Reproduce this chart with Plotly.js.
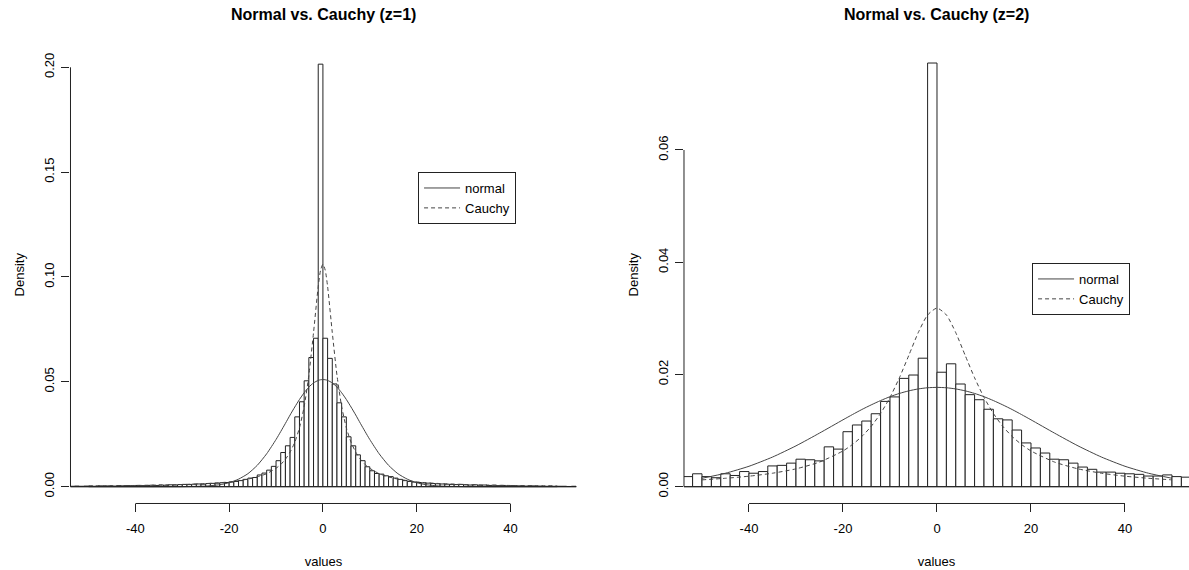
<!DOCTYPE html>
<html>
<head>
<meta charset="utf-8">
<script src="https://cdn.plot.ly/plotly-3.0.1.min.js"></script>
<style>
html,body{margin:0;padding:0;background:#fff;}
#chart{width:1189px;height:570px;}
</style>
</head>
<body>
<div id="chart"></div>
<script>
// ---------- data ----------
// Left panel (z=1): histogram, bin width 1, first bin starts at -54
const leftBinStart = -54;
const leftBinWidth = 1;
const leftDensity = [
  0.0002, 0.0003, 0.0002, 0.0003, 0.0003, 0.0002, 0.0004, 0.0003, 0.0004, 0.0003,
  0.0005, 0.0004, 0.0005, 0.0004, 0.0006, 0.0005, 0.0006, 0.0007, 0.0006, 0.0008,
  0.0007, 0.0009, 0.0008, 0.0010, 0.0011, 0.0010, 0.0012, 0.0013, 0.0012, 0.0015,
  0.0016, 0.0017, 0.0019, 0.0020,
  0.0022, 0.0025, 0.0029, 0.0035, 0.0041, 0.0044, 0.0056, 0.0065, 0.0079, 0.0097,
  0.0124, 0.0163, 0.0195, 0.0235, 0.0333, 0.0405, 0.0505, 0.0616, 0.0708, 0.2015,
  0.0708, 0.0612, 0.0490, 0.0400, 0.0333, 0.0238, 0.0195, 0.0152, 0.0124, 0.0095,
  0.0076, 0.0063, 0.0060, 0.0052, 0.0048, 0.0041, 0.0035, 0.0029, 0.0025, 0.0022,
  0.0020, 0.0018, 0.0017, 0.0015, 0.0014, 0.0013, 0.0012, 0.0011, 0.0010, 0.0011,
  0.0009, 0.0008, 0.0009, 0.0007, 0.0008, 0.0006, 0.0007, 0.0005, 0.0006, 0.0004,
  0.0005, 0.0004, 0.0004, 0.0003, 0.0004, 0.0003, 0.0003, 0.0002, 0.0003, 0.0002,
  0.0002, 0.0002, 0.0001, 0.0002
];
const leftCurveX = [-50,-45,-40,-35,-30,-25,-22,-20,-18,-16,-14,-12,-10,-9,-8,-7,-6,-5,-4,-3,-2,-1,-0.5,
                    0,0.5,1,2,3,4,5,6,7,8,9,10,12,14,16,18,20,22,25,30,35,40,45,50];
const leftNormal = [0,0,0,0,0.00003,0.0003,0.00096,0.0019,0.0036,0.0062,0.0102,0.0157,0.0225,0.0263,0.0302,0.0342,0.0380,0.0416,0.0448,0.0475,0.0495,0.0507,0.0510,
                    0.0511,0.0510,0.0507,0.0495,0.0475,0.0448,0.0416,0.0380,0.0342,0.0302,0.0263,0.0225,0.0157,0.0102,0.0062,0.0036,0.0019,0.00096,0.0003,0.00003,0,0,0,0];
const leftCauchy = [0.00038,0.00047,0.00059,0.00077,0.00105,0.0015,0.0019,0.0023,0.0029,0.0036,0.0047,0.0062,0.0088,0.0106,0.0131,0.0165,0.0212,0.0281,0.0382,0.0531,0.0735,0.0955,0.1032,
                    0.1061,0.1032,0.0955,0.0735,0.0531,0.0382,0.0281,0.0212,0.0165,0.0131,0.0106,0.0088,0.0062,0.0047,0.0036,0.0029,0.0023,0.0019,0.0015,0.00105,0.00077,0.00059,0.00047,0.00038];

// Right panel (z=2): histogram, bin width 2, first bin starts at -54
const rightBinStart = -54;
const rightBinWidth = 2;
const rightDensity = [
  0.0018, 0.0023, 0.0018, 0.0016, 0.0023, 0.0020, 0.0027, 0.0024, 0.0027, 0.0037,
  0.0038, 0.0042, 0.0049, 0.0048, 0.0046, 0.0071, 0.0067, 0.0098, 0.0110, 0.0117,
  0.0130, 0.0152, 0.0160, 0.0193, 0.0199, 0.0229, 0.0755,
  0.0204, 0.0219, 0.0183, 0.0164, 0.0155, 0.0138, 0.0121, 0.0119, 0.0101, 0.0078,
  0.0069, 0.0060, 0.0049, 0.0048, 0.0042, 0.0035, 0.0031, 0.0026, 0.0026, 0.0024,
  0.0023, 0.0022, 0.0019, 0.0019, 0.0021, 0.0018, 0.0017
];
const rightCurveX = [-50,-45,-40,-35,-30,-25,-20,-18,-16,-14,-12,-10,-8,-6,-4,-2,
                     0,2,4,6,8,10,12,14,16,18,20,25,30,35,40,45,50];
const rightNormal = [0.0015,0.0024,0.00364,0.00528,0.00728,0.00955,0.01192,0.01285,0.01375,0.01458,0.01535,0.01604,0.01662,0.01708,0.01742,0.01763,
                     0.0177,0.01763,0.01742,0.01708,0.01662,0.01604,0.01535,0.01458,0.01375,0.01285,0.01192,0.00955,0.00728,0.00528,0.00364,0.0024,0.0015];
const rightCauchy = [0.00122,0.0015,0.00187,0.0024,0.00318,0.00439,0.00637,0.00751,0.00894,0.01075,0.01305,0.01592,0.01941,0.0234,0.02744,0.03061,
                     0.03183,0.03061,0.02744,0.0234,0.01941,0.01592,0.01305,0.01075,0.00894,0.00751,0.00637,0.00439,0.00318,0.0024,0.00187,0.0015,0.00122];

const xTicks = [-40, -20, 0, 20, 40];
const xTickText = ['-40', '-20', '0', '20', '40'];
const leftYTicks = [0, 0.05, 0.10, 0.15, 0.20];
const leftYTickText = ['0.00', '0.05', '0.10', '0.15', '0.20'];
const rightYTicks = [0, 0.02, 0.04, 0.06];
const rightYTickText = ['0.00', '0.02', '0.04', '0.06'];
const titles = ['Normal vs. Cauchy (z=1)', 'Normal vs. Cauchy (z=2)'];
const seriesNames = ['normal', 'Cauchy'];

// ---------- build ----------
function centers(start, width, n) {
  const c = [];
  for (let i = 0; i < n; i++) c.push(start + width * (i + 0.5));
  return c;
}
const INK = '#222';
const CURVE = '#444';
const FONT = 'Liberation Sans, Arial, Helvetica, sans-serif';
const FS = 13;

const traces = [
  {type:'bar', x:centers(leftBinStart, leftBinWidth, leftDensity.length), y:leftDensity,
   width:leftBinWidth, marker:{color:'white', line:{color:INK, width:1}},
   xaxis:'x', yaxis:'y', showlegend:false, hoverinfo:'skip'},
  {type:'bar', x:centers(rightBinStart, rightBinWidth, rightDensity.length), y:rightDensity,
   width:rightBinWidth, marker:{color:'white', line:{color:INK, width:1}},
   xaxis:'x2', yaxis:'y2', showlegend:false, hoverinfo:'skip'},
  {type:'scatter', mode:'lines', x:leftCurveX, y:leftNormal, name:seriesNames[0],
   line:{color:CURVE, width:1, shape:'spline', smoothing:0.6}, xaxis:'x', yaxis:'y', legend:'legend'},
  {type:'scatter', mode:'lines', x:leftCurveX, y:leftCauchy, name:seriesNames[1],
   line:{color:CURVE, width:1, dash:'4px,3px', shape:'spline', smoothing:0.6}, xaxis:'x', yaxis:'y', legend:'legend'},
  {type:'scatter', mode:'lines', x:rightCurveX, y:rightNormal, name:seriesNames[0],
   line:{color:CURVE, width:1, shape:'spline', smoothing:0.6}, xaxis:'x2', yaxis:'y2', legend:'legend2'},
  {type:'scatter', mode:'lines', x:rightCurveX, y:rightCauchy, name:seriesNames[1],
   line:{color:CURVE, width:1, dash:'4px,3px', shape:'spline', smoothing:0.6}, xaxis:'x2', yaxis:'y2', legend:'legend2'}
];

function xAxis(domain, range, anchor) {
  return {domain:domain, range:range, anchor:anchor, tickmode:'array', tickvals:xTicks, ticktext:xTickText,
    ticks:'outside', ticklen:8, tickwidth:1, tickcolor:INK, showgrid:false, zeroline:false, showline:false,
    tickfont:{family:FONT, size:FS, color:'#000'}, ticklabelstandoff:5,
    title:{text:'values', font:{family:FONT, size:FS, color:'#000'}, standoff:21}, fixedrange:true};
}
function yAxis(domain, range, anchor, tv, tt) {
  return {domain:domain, range:range, anchor:anchor, tickmode:'array', tickvals:tv, ticktext:tt, tickangle:-90,
    ticks:'outside', ticklen:8, tickwidth:1, tickcolor:INK, showgrid:false, zeroline:false, showline:false,
    tickfont:{family:FONT, size:FS, color:'#000'}, ticklabelstandoff:2,
    title:{text:'Density', font:{family:FONT, size:FS, color:'#000'}, standoff:14}, fixedrange:true};
}
const yDom = [0.11667, 0.91930];
const legendStyle = {xanchor:'left', yanchor:'top', bgcolor:'white', bordercolor:INK, borderwidth:1,
  font:{family:FONT, size:FS, color:'#000'}, tracegroupgap:0, itemwidth:36};
const layout = {
  width:1189, height:570, margin:{l:0, r:0, t:0, b:0},
  paper_bgcolor:'white', plot_bgcolor:'white',
  font:{family:FONT, size:FS, color:'#000'},
  bargap:0, barmode:'overlay', showlegend:true,
  xaxis: xAxis([0.05929, 0.48486], [-53.85, 54.1], 'y'),
  yaxis: yAxis(yDom, [-0.00801, 0.21016], 'x', leftYTicks, leftYTickText),
  xaxis2: xAxis([0.57527, 1], [-53.83, 53.62], 'y2'),
  yaxis2: yAxis(yDom, [-0.002994, 0.078533], 'x2', rightYTicks, rightYTickText),
  legend: Object.assign({x:0.3516, y:0.6982}, legendStyle),
  legend2: Object.assign({x:0.8680, y:0.5386}, legendStyle),
  shapes:[
    // axis lines spanning first to last tick
    {type:'line', xref:'x', yref:'y domain', x0:xTicks[0], x1:xTicks[xTicks.length-1], y0:0, y1:0, line:{color:INK, width:1}},
    {type:'line', xref:'x domain', yref:'y', x0:0, x1:0, y0:leftYTicks[0], y1:leftYTicks[leftYTicks.length-1], line:{color:INK, width:1}},
    {type:'line', xref:'x2', yref:'y2 domain', x0:xTicks[0], x1:xTicks[xTicks.length-1], y0:0, y1:0, line:{color:INK, width:1}},
    {type:'line', xref:'x2 domain', yref:'y2', x0:0, x1:0, y0:rightYTicks[0], y1:rightYTicks[rightYTicks.length-1], line:{color:INK, width:1}},
    // histogram baselines at density 0
    {type:'line', xref:'x domain', yref:'y', x0:0, x1:1, y0:0, y1:0, line:{color:INK, width:1}},
    {type:'line', xref:'x2 domain', yref:'y2', x0:0, x1:1, y0:0, y1:0, line:{color:INK, width:1}}
  ],
  annotations:[
    {text:'<b>'+titles[0]+'</b>', xref:'x domain', yref:'paper', x:0.5, y:0.9754, xanchor:'center', yanchor:'middle',
     showarrow:false, font:{family:FONT, size:16, color:'#000'}},
    {text:'<b>'+titles[1]+'</b>', xref:'x2 domain', yref:'paper', x:0.5, y:0.9754, xanchor:'center', yanchor:'middle',
     showarrow:false, font:{family:FONT, size:16, color:'#000'}}
  ]
};
Plotly.newPlot('chart', traces, layout, {staticPlot:true, displayModeBar:false});
</script>
</body>
</html>
